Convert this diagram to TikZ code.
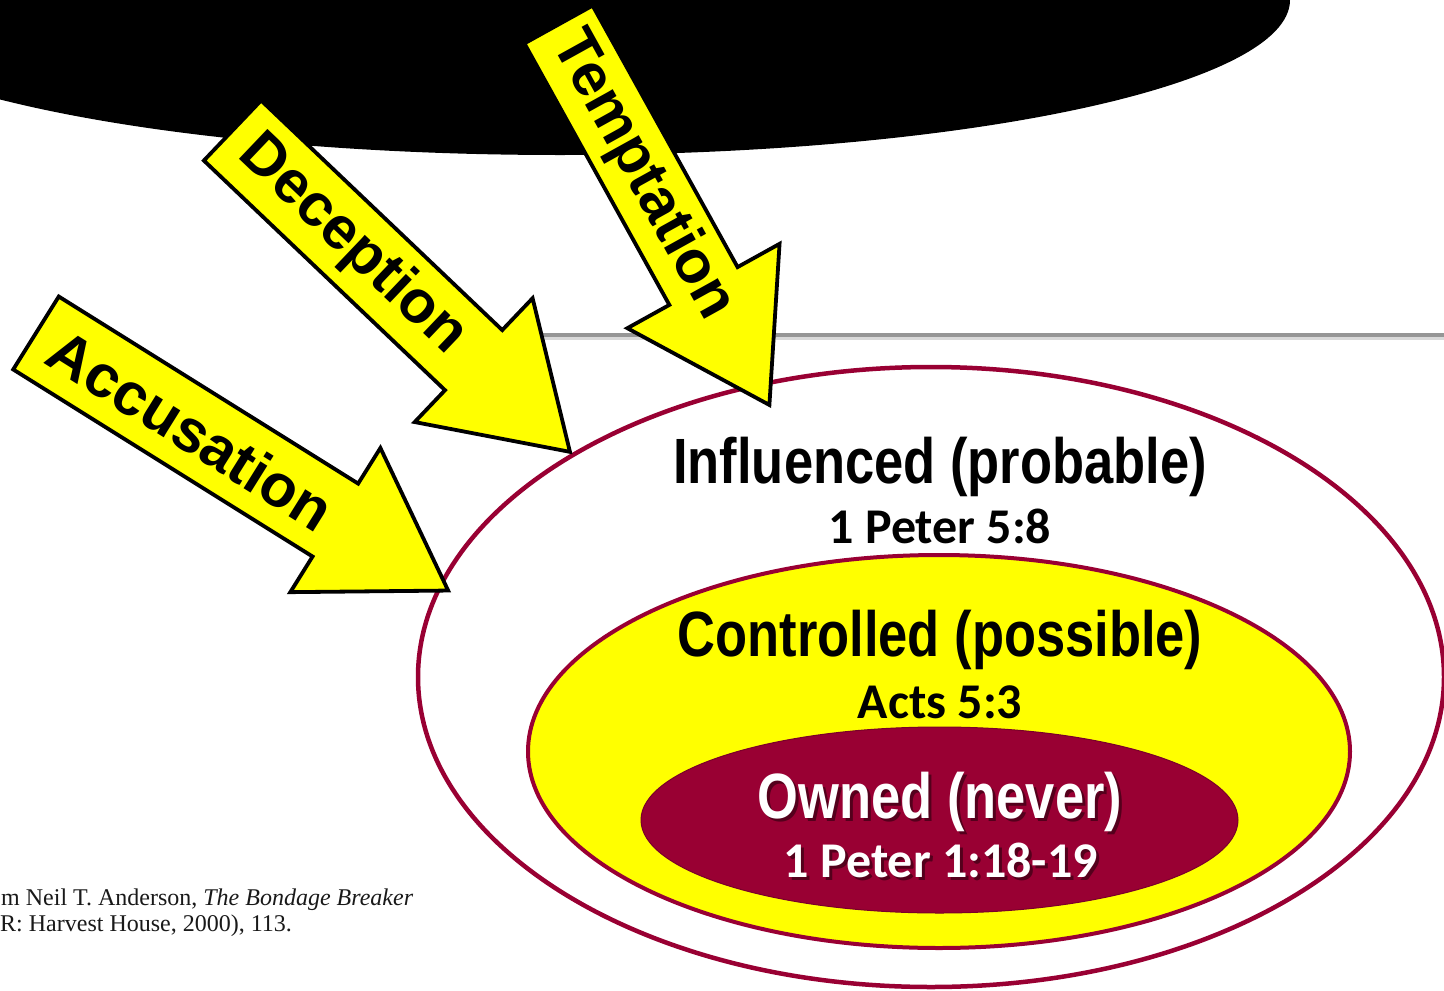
\documentclass[tikz,border=0pt]{standalone}
\usepackage{fontspec}
\setmainfont{Liberation Serif}
\newfontfamily\narrowfont{Liberation Sans}[FakeStretch=0.82]
\newfontfamily\arialfont{Liberation Sans}
\newfontfamily\calfont{Carlito}
\definecolor{crimsonred}{RGB}{153,0,51}
\definecolor{brightyellow}{RGB}{255,255,0}
\definecolor{ruleGray}{RGB}{150,150,150}
\tikzset{
  arrowbox/.style={draw=black, fill=brightyellow, line width=3.8pt, line join=miter},
  arrowtext/.style={font=\arialfont\bfseries\fontsize{60}{64}\selectfont, inner sep=0pt, anchor=center},
  headtext/.style={font=\narrowfont\bfseries\fontsize{64}{70}\selectfont, inner sep=0pt, anchor=base},
  reftext/.style={font=\calfont\bfseries\fontsize{50}{56}\selectfont, inner sep=0pt, anchor=base},
  shadowtext/.style={text=black, opacity=0.45},
  notetext/.style={font=\fontsize{24}{27}\selectfont, inner sep=0pt, anchor=base west, text=black!90}
}
% #1 tail x, #2 tail y, #3 angle, #4 shaft length, #5 head length,
% #6 half shaft, #7 half head, #8 text position, #9 name/text
\newcommand\blockarrow[9]{%
  \begin{scope}[shift={(#1,#2)}, rotate=#3]
    \draw[arrowbox] (0,-#6) -- (#4,-#6) -- (#4,-#7) -- ({#4+#5},0) -- (#4,#7) -- (#4,#6) -- (0,#6) -- cycle;
    \node[arrowtext, rotate=#3] (#9) at (#8,0) {#9};
  \end{scope}}
\begin{document}
\begin{tikzpicture}[x=1pt,y=-1pt]
\useasboundingbox (0,0) rectangle (1444,991);
\clip (0,0) rectangle (1444,991);
\fill[white] (0,0) rectangle (1444,991);
% black ellipse at the top
\fill[black] (560,0) ellipse [x radius=730pt, y radius=155pt];
% gray rule with soft shadow
\draw[black!15, line width=4pt] (530,338) -- (1450,338);
\draw[ruleGray, line width=4pt] (530,335) -- (1450,335);
% nested ellipses
\draw[crimsonred, fill=white, line width=4.5pt] (931,677) ellipse [x radius=513pt, y radius=310pt];
\draw[crimsonred, fill=brightyellow, line width=4pt] (939,751.5) ellipse [x radius=411pt, y radius=196.5pt];
\draw[crimsonred!80!black, fill=crimsonred, line width=1pt] (939.5,820) ellipse [x radius=298.5pt, y radius=93pt];
% texts
\node[headtext] (influenced) at (940,483) {Influenced (probable)};
\node[reftext] (ref1) at (940,543) {1 Peter 5:8};
\node[headtext] (controlled) at (940,656) {Controlled (possible)};
\node[reftext] (ref2) at (940,718) {Acts 5:3};
\node[headtext, shadowtext] (ownedshadow) at (943,821) {Owned (never)};
\node[headtext, text=white] (owned) at (940,818) {Owned (never)};
\node[reftext, shadowtext] (ref3shadow) at (944,880) {1 Peter 1:18-19};
\node[reftext, text=white] (ref3) at (941,877) {1 Peter 1:18-19};
% footnote
\node[notetext] (note1) at (1,905) {m Neil T. Anderson, \textit{The Bondage Breaker}};
\node[notetext] (note2) at (0,931) {R: Harvest House, 2000), 113.};
% block arrows
\blockarrow{36}{333}{-32}{353}{133}{43}{85}{183}{Accusation}
\blockarrow{232.5}{130.5}{-43.6}{333}{133}{41.5}{85.5}{166}{Deception}
\blockarrow{558.5}{24.5}{-61}{299}{136}{39}{87}{173}{Temptation}
\end{tikzpicture}
\end{document}
